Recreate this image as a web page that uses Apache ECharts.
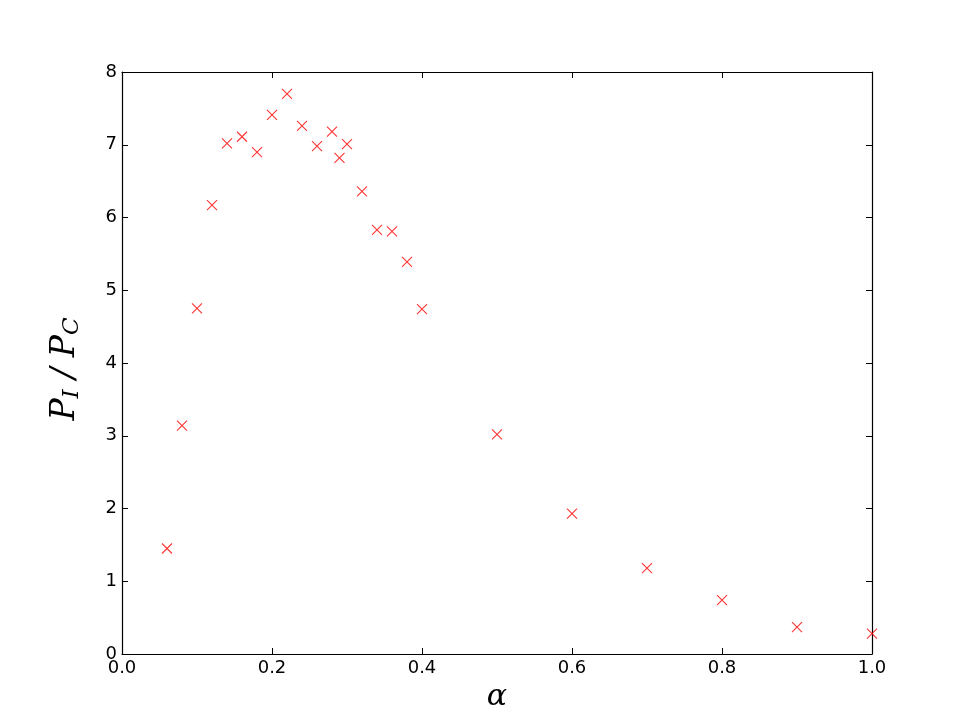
<!DOCTYPE html>
<html>
<head>
<meta charset="utf-8">
<script src="https://cdn.jsdelivr.net/npm/echarts@6/dist/echarts.min.js"></script>
<style>
  html, body { margin: 0; padding: 0; background: #fff; }
  #chart { width: 969px; height: 727px; }
</style>
</head>
<body>
<div id="chart"></div>
<script>
// alpha values and the measured ratio P_I / P_C
const alphaValues = [0.06, 0.08, 0.10, 0.12, 0.14, 0.16, 0.18, 0.20, 0.22, 0.24, 0.26, 0.28, 0.29, 0.30,
  0.32, 0.34, 0.36, 0.38, 0.40, 0.50, 0.60, 0.70, 0.80, 0.90, 1.00];
const ratioValues = [1.45, 3.14, 4.75, 6.17, 7.02, 7.11, 6.90, 7.41, 7.70, 7.26, 6.98, 7.18, 6.82, 7.01,
  6.36, 5.83, 5.81, 5.39, 4.74, 3.02, 1.93, 1.18, 0.74, 0.37, 0.28];

const xTicks = [0.0, 0.2, 0.4, 0.6, 0.8, 1.0];
const yTicks = [0, 1, 2, 3, 4, 5, 6, 7, 8];

const points = alphaValues.map((a, i) => [a, ratioValues[i]]);

const tickFont = { color: '#000', fontSize: 18, fontFamily: 'DejaVu Sans' };
const axisLine = { show: true, onZero: false, lineStyle: { color: '#000', width: 1.2 } };
const axisTick = { show: true, inside: true, length: 6, lineStyle: { color: '#000', width: 1 } };

const chart = echarts.init(document.getElementById('chart'), null, { renderer: 'canvas' });

chart.setOption({
  animation: false,
  backgroundColor: '#fff',
  grid: { left: 122, right: 97, top: 72, bottom: 73, containLabel: false },
  xAxis: [
    {
      type: 'value', min: xTicks[0], max: xTicks[xTicks.length - 1], interval: 0.2,
      axisLine: axisLine, axisTick: axisTick, splitLine: { show: false },
      axisLabel: Object.assign({ margin: 5, formatter: v => v.toFixed(1) }, tickFont),
      name: 'α', nameLocation: 'middle', nameGap: 25,
      nameTextStyle: { fontFamily: 'DejaVu Serif', fontStyle: 'italic', fontSize: 30, color: '#000' }
    },
    {
      type: 'value', min: 0, max: 1, interval: 0.2, position: 'top',
      axisLine: axisLine, axisTick: axisTick, splitLine: { show: false }, axisLabel: { show: false }
    }
  ],
  yAxis: [
    {
      type: 'value', min: yTicks[0], max: yTicks[yTicks.length - 1], interval: 1,
      axisLine: axisLine, axisTick: axisTick, splitLine: { show: false },
      axisLabel: Object.assign({ margin: 5 }, tickFont),
      name: '{p|P}{s|I}{p| / P}{s|C}', nameLocation: 'middle', nameGap: 38, nameRotate: 90,
      nameTextStyle: {
        color: '#000',
        padding: [0, 12, 0, 0],
        rich: {
          p: { fontFamily: 'DejaVu Serif', fontStyle: 'italic', fontSize: 33, color: '#000' },
          s: { fontFamily: 'DejaVu Serif', fontStyle: 'italic', fontSize: 23, color: '#000',
               verticalAlign: 'bottom', padding: [14, 0, 0, 0] }
        }
      }
    },
    {
      type: 'value', min: 0, max: 8, interval: 1, position: 'right',
      axisLine: axisLine, axisTick: axisTick, splitLine: { show: false }, axisLabel: { show: false }
    }
  ],
  series: [{
    type: 'scatter',
    xAxisIndex: 0,
    yAxisIndex: 0,
    data: points,
    symbol: 'path://M0,0L10,10M10,0L0,10',
    symbolSize: 10,
    clip: true,
    itemStyle: { color: 'rgba(0,0,0,0)', borderColor: '#ff0000', borderWidth: 1.1 }
  }]
});
</script>
</body>
</html>
